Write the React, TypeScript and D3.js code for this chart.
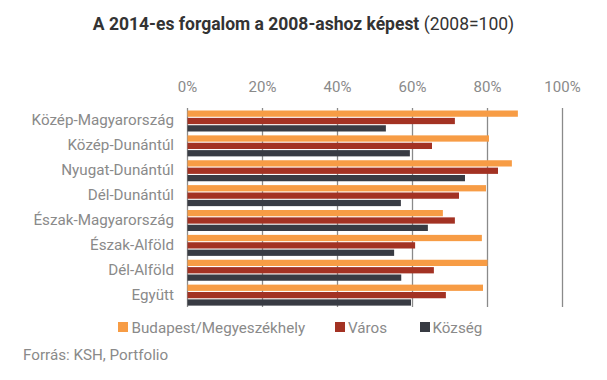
import React from "react";
import * as d3 from "d3";

const categories = [
  "Közép-Magyarország",
  "Közép-Dunántúl",
  "Nyugat-Dunántúl",
  "Dél-Dunántúl",
  "Észak-Magyarország",
  "Észak-Alföld",
  "Dél-Alföld",
  "Együtt",
];
const seriesNames = ["Budapest/Megyeszékhely", "Város", "Község"];
const budapest = [88.1, 80.4, 86.5, 79.6, 68.1, 78.5, 80.0, 78.8];
const varos = [71.3, 65.2, 82.8, 72.4, 71.3, 60.7, 65.7, 68.9];
const kozseg = [52.9, 59.3, 74.0, 56.9, 64.1, 55.1, 57.0, 59.6];
const ticks = [0, 20, 40, 60, 80, 100];
const colors = ["#F79C45", "#A33223", "#383B43"];

const W = 607;
const H = 380;
const FONT = "Roboto, 'Noto Sans', sans-serif";
const GREY = "#8a8a8a";

export default function App() {
  const x = d3.scaleLinear().domain([0, 100]).range([187.5, 562.5]);
  const y = d3.scaleBand<string>().domain(categories).range([108, 307]).paddingInner(0).paddingOuter(0);
  const series = [budapest, varos, kozseg];
  const inner = d3.scaleBand<number>().domain([0, 1, 2]).range([0, 21]).paddingInner(0.15);

  return (
    <svg width={W} height={H} style={{ position: "absolute", left: 0, top: 0, background: "#fff" }} fontFamily={FONT}>
      <text x={303.5} y={29.5} textAnchor="middle" fontSize={17.5} fill="#333">
        <tspan fontWeight="bold">A 2014-es forgalom a 2008-ashoz képest</tspan>
        <tspan> (2008=100)</tspan>
      </text>
      {ticks.map((t) => (
        <g key={t}>
          <text x={x(t)} y={92} textAnchor="middle" fontSize={15} fill={GREY}>
            {t}%
          </text>
          <line x1={x(t)} x2={x(t)} y1={108} y2={307} stroke={GREY} strokeWidth={1.3} />
        </g>
      ))}
      {categories.map((c, i) => (
        <g key={c}>
          <text x={174} y={(y(c) as number) + y.bandwidth() / 2 + 5} textAnchor="end" fontSize={15.2} fill={GREY}>
            {c}
          </text>
          {series.map((s, k) => (
            <rect
              key={k}
              x={x(0)}
              y={(y(c) as number) + 2.5 + (inner(k) as number)}
              width={x(s[i]) - x(0)}
              height={inner.bandwidth()}
              fill={colors[k]}
            />
          ))}
        </g>
      ))}
      {[
        { x: 118, tx: 131.5 },
        { x: 335, tx: 348 },
        { x: 420, tx: 432.5 },
      ].map((l, k) => (
        <g key={k}>
          <rect x={l.x} y={322} width={10} height={10} fill={colors[k]} />
          <text x={l.tx} y={332.5} fontSize={15.2} fill={GREY}>
            {seriesNames[k]}
          </text>
        </g>
      ))}
      <text x={23} y={360} fontSize={15.2} fill={GREY}>
        Forrás: KSH, Portfolio
      </text>
    </svg>
  );
}
